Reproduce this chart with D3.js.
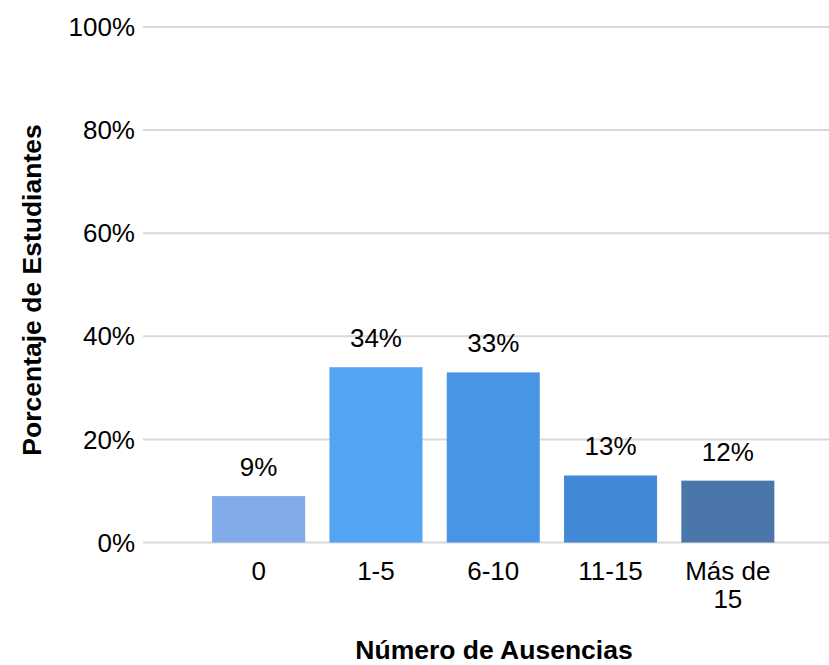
<!DOCTYPE html>
<html>
<head>
  <title>Ausencias</title>
  <script src="https://d3js.org/d3.v7.min.js"></script>
  <style>
  body {
    margin: 0;
    background: #fff;
  }

  text {
    font-family: "Liberation Sans", Arial, sans-serif;
    fill: #000;
  }

  .grid line {
    stroke: #d9d9d9;
    stroke-width: 2;
  }
  </style>
</head>
<body>
  <script>

    var categories = ["0", "1-5", "6-10", "11-15", "Más de 15"];
    var values = [9, 34, 33, 13, 12];
    var barColors = ["#80aae8", "#53a4f5", "#4995e5", "#4189d4", "#4a76aa"];
    var yTicks = [0, 20, 40, 60, 80, 100];

    var width = 829;
    var height = 665;

    var svg = d3.select("body")
      .append("svg")
      .attr("width", width)
      .attr("height", height);

    var x = d3.scaleBand()
      .domain(categories)
      .range([200, 786.5])
      .paddingInner(0.207)
      .paddingOuter(0.1035);

    var y = d3.scaleLinear()
      .domain([0, 100])
      .range([542.5, 27]);

    // gridlines + y labels
    var grid = svg.append("g")
      .attr("class", "grid");

    grid.selectAll("line")
      .data(yTicks)
      .enter()
      .append("line")
      .attr("x1", 143)
      .attr("x2", width)
      .attr("y1", function(d) { return y(d); })
      .attr("y2", function(d) { return y(d); });

    svg.append("g")
      .selectAll("text")
      .data(yTicks)
      .enter()
      .append("text")
      .attr("x", 135)
      .attr("y", function(d) { return y(d); })
      .attr("dy", "0.35em")
      .attr("text-anchor", "end")
      .style("font-size", "26px")
      .text(function(d) { return d + "%"; });

    // bars
    svg.append("g")
      .selectAll("rect")
      .data(values)
      .enter()
      .append("rect")
      .attr("x", function(d, i) { return x(categories[i]); })
      .attr("width", x.bandwidth())
      .attr("y", function(d) { return y(d); })
      .attr("height", function(d) { return y(0) - y(d); })
      .attr("fill", function(d, i) { return barColors[i]; });

    // value labels
    svg.append("g")
      .selectAll("text")
      .data(values)
      .enter()
      .append("text")
      .attr("x", function(d, i) { return x(categories[i]) + x.bandwidth() / 2; })
      .attr("y", function(d) { return y(d) - 20; })
      .attr("text-anchor", "middle")
      .style("font-size", "26px")
      .text(function(d) { return d + "%"; });

    // category labels (wrap "Más de 15")
    var catLabels = svg.append("g")
      .selectAll("text")
      .data(categories)
      .enter()
      .append("text")
      .attr("x", function(d) { return x(d) + x.bandwidth() / 2; })
      .attr("y", 580)
      .attr("text-anchor", "middle")
      .style("font-size", "26px");

    catLabels.each(function(d) {
      var lines = d === "Más de 15" ? ["Más de", "15"] : [d];
      var t = d3.select(this);
      lines.forEach(function(line, i) {
        t.append("tspan")
          .attr("x", x(d) + x.bandwidth() / 2)
          .attr("dy", i === 0 ? 0 : 28)
          .text(line);
      });
    });

    // axis titles
    svg.append("text")
      .attr("x", 494)
      .attr("y", 659)
      .attr("text-anchor", "middle")
      .style("font-size", "26.5px")
      .style("font-weight", "bold")
      .text("Número de Ausencias");

    svg.append("text")
      .attr("transform", "translate(41,290) rotate(-90)")
      .attr("text-anchor", "middle")
      .style("font-size", "26.5px")
      .style("font-weight", "bold")
      .text("Porcentaje de Estudiantes");

  </script>
</body>
</html>
